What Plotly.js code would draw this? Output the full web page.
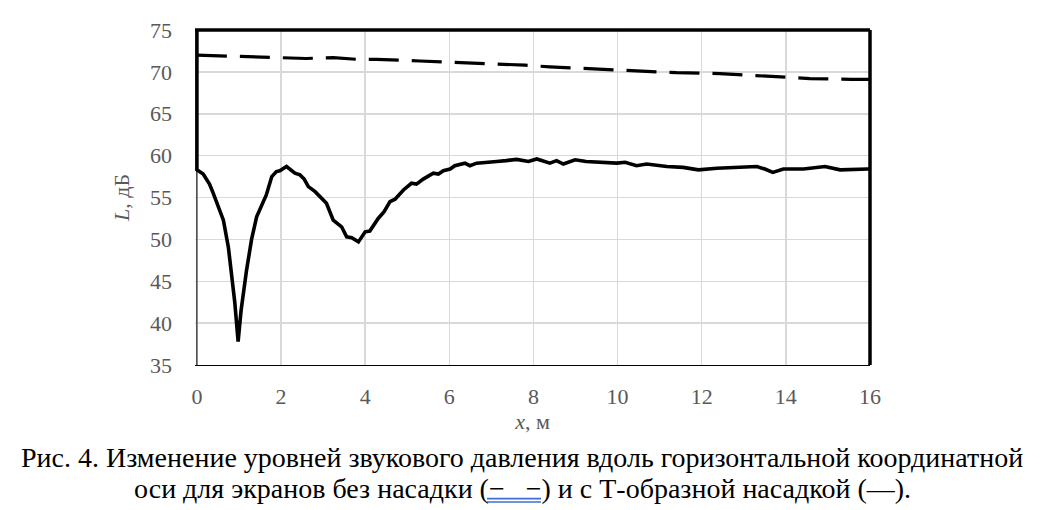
<!DOCTYPE html>
<html>
<head>
<meta charset="utf-8">
<script src="https://cdn.plot.ly/plotly-3.0.1.min.js"></script>
<style>
  html, body { margin: 0; padding: 0; background: #fff; }
  #chart { width: 1044px; height: 510px; }
</style>
</head>
<body>
<div id="chart"></div>
<script>
// screen without attachment (dashed)
const plainX = [0, 0.5, 0.86, 1.2, 1.97, 2.6, 3.24, 3.8, 4.27, 5.3, 6.33, 7.13, 7.8, 8.39,
  9.34, 10.37, 11.4, 12.43, 13.46, 14.57, 15.56, 16]
const plainY = [72.0, 71.9, 71.9, 71.8, 71.7, 71.6, 71.7, 71.5, 71.5, 71.3, 71.1, 71.0, 70.8, 70.6,
  70.35, 70.1, 69.9, 69.8, 69.5, 69.2, 69.1, 69.1]

// screen with T-shaped attachment (solid)
const tshapeX = [0, 0, 0.15, 0.3, 0.39, 0.5, 0.63, 0.75, 0.82, 0.9, 0.98, 1.05, 1.18, 1.3, 1.42,
  1.54, 1.65, 1.78, 1.89, 1.97, 2.13, 2.33, 2.45, 2.55, 2.65, 2.81, 2.95, 3.08, 3.24, 3.44,
  3.56, 3.68, 3.84, 4.0, 4.11, 4.31, 4.45, 4.59, 4.71, 4.91, 5.1, 5.22, 5.38, 5.62, 5.74,
  5.86, 6.02, 6.13, 6.37, 6.49, 6.65, 6.81, 7.13, 7.35, 7.6, 7.88, 8.08, 8.39, 8.55, 8.71,
  8.99, 9.25, 9.66, 9.98, 10.18, 10.45, 10.69, 11.17, 11.56, 11.92, 12.36, 12.67, 13.31,
  13.5, 13.69, 13.94, 14.42, 14.93, 15.29, 15.96, 16]
const tshapeY = [75, 58.3, 57.8, 56.6, 55.5, 54.0, 52.3, 49.0, 46.3, 42.5, 37.8, 41.5, 46.3, 50.0, 52.7,
  54.1, 55.3, 57.5, 58.1, 58.2, 58.7, 57.9, 57.7, 57.2, 56.3, 55.7, 55.0, 54.3, 52.3, 51.5,
  50.3, 50.2, 49.7, 50.9, 51.0, 52.5, 53.3, 54.5, 54.8, 55.9, 56.7, 56.6, 57.2, 57.9, 57.8,
  58.2, 58.4, 58.8, 59.1, 58.8, 59.1, 59.2, 59.3, 59.4, 59.55, 59.3, 59.6, 59.1, 59.4, 59.0,
  59.5, 59.3, 59.2, 59.1, 59.2, 58.8, 59.0, 58.7, 58.6, 58.3, 58.5, 58.6, 58.7,
  58.4, 58.0, 58.4, 58.4, 58.7, 58.3, 58.4, 58.4]

const xTicks = [0, 2, 4, 6, 8, 10, 12, 14, 16]
const yTicks = [35, 40, 45, 50, 55, 60, 65, 70, 75]

const captionLine1 = 'Рис. 4. Изменение уровней звукового давления вдоль горизонтальной координатной'
const captionLine2 = 'оси для экранов без насадки (−&nbsp;&nbsp;&nbsp;−) и с Т-образной насадкой (—).'

const serif = 'Liberation Serif, Times New Roman, serif'
const tickFont = { family: serif, size: 22, color: '#595959' }

const traces = [{
  x: plainX,
  y: plainY,
  type: 'scatter',
  mode: 'lines',
  line: { color: '#000', width: 3.2, dash: '30px,13px' },
  hoverinfo: 'skip'
}, {
  x: tshapeX,
  y: tshapeY,
  type: 'scatter',
  mode: 'lines',
  line: { color: '#000', width: 3.6 },
  hoverinfo: 'skip'
}]

const underline = { color: '#3d6fd6', width: 1.6 }

const layout = {
  width: 1044,
  height: 510,
  margin: { l: 195, r: 174, t: 30, b: 145 },
  paper_bgcolor: '#fff',
  plot_bgcolor: '#fff',
  showlegend: false,
  font: { family: serif, color: '#000' },
  xaxis: {
    range: [-0.045, 16],
    tickvals: xTicks,
    ticks: '',
    tickfont: tickFont,
    ticklabelstandoff: 12,
    showgrid: true,
    gridcolor: '#d9d9d9',
    gridwidth: 1.5,
    zeroline: false,
    showline: true,
    linecolor: '#000',
    linewidth: 1,
    title: { text: '<i>x</i>, м', font: { family: serif, size: 22, color: '#595959' }, standoff: 3 }
  },
  yaxis: {
    range: [35, 75],
    tickvals: yTicks,
    ticks: '',
    tickfont: tickFont,
    ticklabelstandoff: 22,
    showgrid: true,
    gridcolor: '#d9d9d9',
    gridwidth: 1.5,
    zeroline: false,
    showline: false,
    title: { text: '<i>L</i>, дБ', font: { family: serif, size: 22, color: '#595959' }, standoff: 14 }
  },
  shapes: [
    // thin left axis, heavy top and right frame
    { type: 'line', xref: 'x', yref: 'paper', x0: 0, x1: 0, y0: 0, y1: 1, line: { color: '#000', width: 1 } },
    { type: 'line', xref: 'paper', yref: 'paper', x0: 0, x1: 1, y0: 1, y1: 1, line: { color: '#000', width: 3.5 } },
    { type: 'line', xref: 'paper', yref: 'paper', x0: 1, x1: 1, y0: 0, y1: 1, line: { color: '#000', width: 3.5 } },
    // blue double underline under the dashed-line sample in the caption
    { type: 'line', xref: 'paper', yref: 'paper', x0: 0.4326, x1: 0.5126, y0: -0.399, y1: -0.399, line: underline },
    { type: 'line', xref: 'paper', yref: 'paper', x0: 0.4326, x1: 0.5126, y0: -0.409, y1: -0.409, line: underline }
  ],
  annotations: [{
    text: captionLine1,
    xref: 'paper', yref: 'paper',
    x: 0.485, y: -0.275,
    xanchor: 'center', yanchor: 'middle',
    showarrow: false,
    font: { family: serif, size: 28, color: '#000' }
  }, {
    text: captionLine2,
    xref: 'paper', yref: 'paper',
    x: 0.485, y: -0.370,
    xanchor: 'center', yanchor: 'middle',
    showarrow: false,
    font: { family: serif, size: 28, color: '#000' }
  }]
}

Plotly.newPlot('chart', traces, layout, { staticPlot: true, displayModeBar: false })
</script>
</body>
</html>
